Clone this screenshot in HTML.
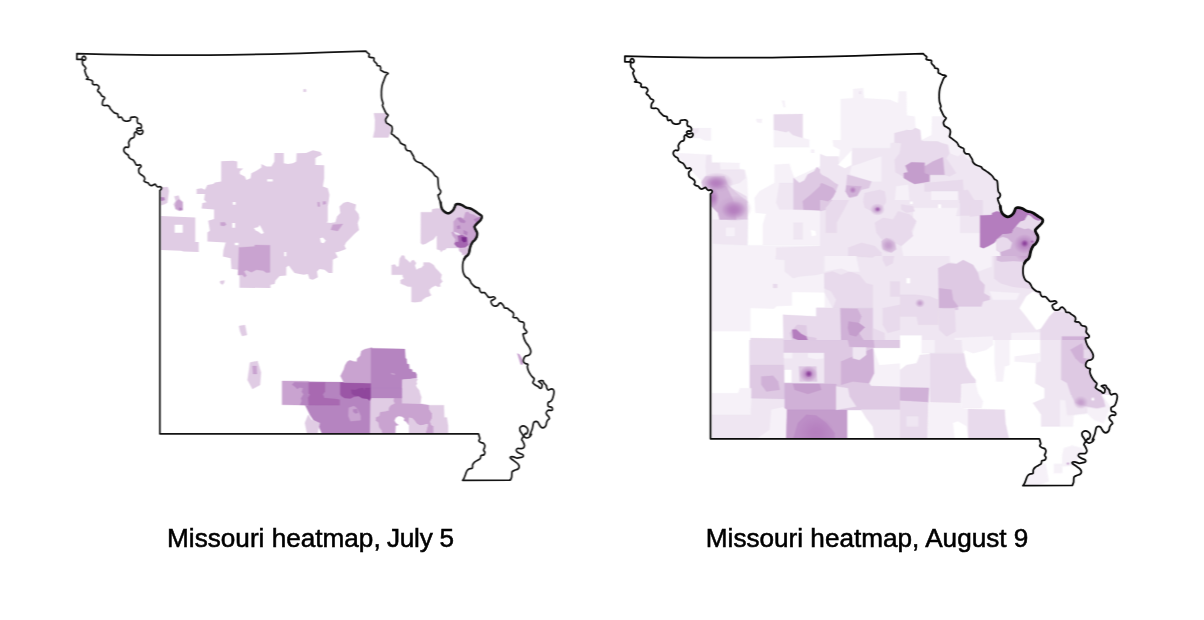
<!DOCTYPE html>
<html lang="en">
<head>
<meta charset="utf-8">
<title>Missouri heatmap</title>
<style>
html,body{margin:0;padding:0;background:#fff;}
body{width:1204px;height:620px;overflow:hidden;position:relative;font-family:"Liberation Sans",Arial,Helvetica,sans-serif;}
svg{position:absolute;left:0;top:0;display:block;}
.cap{position:absolute;top:523.2px;height:30px;line-height:30px;font-size:26.15px;-webkit-text-stroke:0.55px #000;transform:scaleY(1.01);transform-origin:0 23.7px;color:#000;white-space:nowrap;letter-spacing:0;}
#cap1{left:167.1px;}
#cap2{left:705.8px;}
</style>
</head>
<body>
<svg width="1204" height="620" viewBox="0 0 1204 620">
<defs>
<path id="mo" d="M76.90 53.70C76.90 53.70 103.48 54.35 120.00 54.60C136.52 54.85 157.67 55.15 176.00 55.20C194.33 55.25 209.33 55.22 230.00 54.90C250.67 54.58 277.34 53.94 300.00 53.30C322.66 52.66 365.94 51.04 365.94 51.04C365.94 51.04 367.06 52.44 367.62 52.97C368.18 53.50 369.09 53.60 369.30 54.23C369.51 54.86 368.53 56.18 368.88 56.74C369.23 57.30 370.55 57.37 371.39 57.58C372.23 57.79 373.49 57.51 373.91 58.00C374.33 58.49 373.70 59.82 373.91 60.52C374.12 61.22 374.68 61.64 375.17 62.20C375.66 62.76 376.50 63.32 376.85 63.88C377.20 64.44 376.78 65.20 377.27 65.55C377.76 65.90 379.22 65.62 379.78 65.97C380.34 66.32 380.48 66.95 380.62 67.65C380.76 68.35 380.34 69.61 380.62 70.17C380.90 70.73 381.67 70.66 382.30 71.01C382.93 71.36 383.70 72.02 384.40 72.27C385.10 72.52 385.86 72.31 386.49 72.52C387.12 72.73 388.17 73.14 388.17 73.52C388.17 73.90 386.98 74.22 386.49 74.78C386.00 75.34 385.65 75.97 385.23 76.88C384.81 77.79 384.40 79.11 383.98 80.23C383.56 81.35 383.07 82.47 382.72 83.59C382.37 84.71 382.09 85.69 381.88 86.95C381.67 88.21 381.53 89.74 381.46 91.14C381.39 92.54 381.47 94.70 381.46 95.34C381.45 95.98 381.33 94.36 381.39 95.00C381.45 95.64 381.53 97.79 381.81 99.19C382.09 100.59 382.96 102.34 383.07 103.39C383.18 104.44 382.34 104.58 382.48 105.49C382.62 106.40 383.32 107.58 383.91 108.84C384.50 110.10 385.31 111.99 386.01 113.04C386.71 114.09 387.96 114.43 388.10 115.13C388.24 115.83 387.27 116.46 386.85 117.23C386.43 118.00 385.66 118.84 385.59 119.75C385.52 120.66 385.87 121.91 386.43 122.68C386.99 123.45 388.10 123.80 388.94 124.36C389.78 124.92 390.90 125.34 391.46 126.04C392.02 126.74 392.23 127.65 392.30 128.56C392.37 129.47 392.02 130.65 391.88 131.49C391.74 132.33 391.18 132.96 391.46 133.59C391.74 134.22 392.79 134.64 393.56 135.27C394.33 135.90 395.23 136.67 396.07 137.37C396.91 138.07 397.89 138.62 398.59 139.46C399.29 140.30 399.94 141.81 400.27 142.40C400.60 142.99 400.15 142.69 400.55 143.00C400.95 143.31 401.88 143.84 402.65 144.26C403.42 144.68 404.68 144.82 405.17 145.52C405.66 146.22 405.24 147.61 405.59 148.45C405.94 149.29 406.50 150.13 407.27 150.55C408.04 150.97 409.43 150.48 410.20 150.97C410.97 151.46 411.32 152.58 411.88 153.49C412.44 154.40 413.21 155.58 413.56 156.42C413.91 157.26 413.56 157.75 413.98 158.52C414.40 159.29 415.30 160.41 416.07 161.04C416.84 161.67 417.61 161.88 418.59 162.30C419.57 162.72 421.11 162.99 421.95 163.55C422.79 164.11 422.92 165.02 423.62 165.65C424.32 166.28 425.30 166.77 426.14 167.33C426.98 167.89 427.82 168.38 428.66 169.01C429.50 169.64 430.40 170.40 431.17 171.10C431.94 171.80 432.64 172.43 433.27 173.20C433.90 173.97 434.25 175.02 434.95 175.72C435.65 176.42 436.95 176.56 437.47 177.40C437.99 178.24 437.91 179.49 438.05 180.75C438.19 182.01 438.17 183.69 438.31 184.95C438.45 186.21 438.54 187.39 438.89 188.30C439.24 189.21 440.12 189.70 440.40 190.40C440.68 191.10 440.78 191.80 440.57 192.50C440.36 193.20 439.55 194.17 439.14 194.59C438.73 195.01 438.13 194.37 438.10 195.00C438.07 195.63 438.52 197.10 438.94 198.36C439.36 199.62 440.20 201.01 440.62 202.55C441.04 204.09 440.97 206.18 441.46 207.58C441.95 208.98 442.65 210.03 443.56 210.94C444.47 211.85 445.93 212.69 446.91 213.04C447.89 213.39 448.45 213.46 449.43 213.04C450.41 212.62 451.95 211.43 452.79 210.52C453.63 209.61 453.97 208.56 454.46 207.58C454.95 206.60 455.16 205.24 455.72 204.65C456.28 204.06 456.77 203.99 457.82 204.06C458.87 204.13 460.61 204.48 462.01 205.07C463.41 205.66 464.95 207.05 466.21 207.58C467.47 208.11 468.44 207.91 469.56 208.26C470.68 208.61 471.66 208.95 472.92 209.68C474.18 210.41 475.71 211.64 477.11 212.62C478.51 213.60 480.54 214.71 481.31 215.55C482.08 216.39 481.87 216.88 481.73 217.65C481.59 218.42 481.24 219.19 480.47 220.17C479.70 221.15 478.09 222.47 477.11 223.52C476.13 224.57 474.88 225.48 474.60 226.46C474.32 227.44 475.02 228.35 475.44 229.40C475.86 230.45 476.90 231.49 477.11 232.75C477.32 234.01 477.11 235.69 476.69 236.95C476.27 238.21 475.24 239.51 474.60 240.30C473.96 241.09 473.42 240.96 472.85 241.68C472.28 242.40 471.66 243.49 471.17 244.61C470.68 245.73 470.27 247.06 469.92 248.39C469.57 249.72 469.43 251.46 469.08 252.58C468.73 253.70 468.38 254.40 467.82 255.10C467.26 255.80 466.35 256.08 465.72 256.78C465.09 257.48 464.50 258.32 464.04 259.30C463.58 260.28 463.19 261.39 462.95 262.65C462.71 263.91 462.62 265.45 462.62 266.85C462.62 268.25 462.71 269.78 462.95 271.04C463.19 272.30 463.58 273.42 464.04 274.40C464.50 275.38 464.95 276.21 465.72 276.91C466.49 277.61 467.89 277.89 468.66 278.59C469.43 279.29 469.85 280.27 470.34 281.11C470.83 281.95 471.03 282.85 471.59 283.62C472.15 284.39 472.92 285.09 473.69 285.72C474.46 286.35 475.37 287.05 476.21 287.40C477.05 287.75 478.20 287.65 478.72 287.82C479.25 287.99 479.18 287.97 479.36 288.42C479.54 288.87 479.43 289.82 479.78 290.52C480.13 291.22 480.69 292.26 481.46 292.61C482.23 292.96 483.56 292.26 484.40 292.61C485.24 292.96 485.79 293.94 486.49 294.71C487.19 295.48 487.82 296.81 488.59 297.23C489.36 297.65 490.27 297.30 491.11 297.23C491.95 297.16 492.92 296.60 493.62 296.81C494.32 297.02 495.37 298.00 495.30 298.49C495.23 298.98 493.90 299.32 493.20 299.74C492.50 300.16 491.39 300.37 491.11 301.00C490.83 301.63 491.18 302.75 491.53 303.52C491.88 304.29 492.50 305.20 493.20 305.62C493.90 306.04 494.95 306.11 495.72 306.04C496.49 305.97 497.26 305.62 497.82 305.20C498.38 304.78 498.59 303.90 499.08 303.52C499.57 303.14 500.20 302.79 500.76 302.93C501.32 303.07 501.94 303.84 502.43 304.36C502.92 304.88 503.37 305.44 503.69 306.04C504.01 306.64 503.94 307.62 504.36 307.97C504.78 308.32 505.62 308.03 506.21 308.13C506.80 308.23 507.33 308.20 507.89 308.55C508.45 308.90 508.93 309.74 509.56 310.23C510.19 310.72 511.03 311.00 511.66 311.49C512.29 311.98 513.02 312.54 513.34 313.17C513.66 313.80 513.63 314.57 513.59 315.27C513.55 315.97 512.85 316.94 513.09 317.36C513.33 317.78 514.42 317.71 515.02 317.78C515.62 317.85 516.13 317.50 516.69 317.78C517.25 318.06 517.95 318.90 518.37 319.46C518.79 320.02 518.72 320.76 519.21 321.14C519.70 321.52 520.61 321.51 521.31 321.72C522.01 321.93 522.92 321.94 523.41 322.40C523.90 322.86 524.17 323.65 524.24 324.49C524.31 325.33 523.69 326.59 523.83 327.43C523.97 328.27 524.59 328.83 525.08 329.53C525.57 330.23 526.62 330.99 526.76 331.62C526.90 332.25 526.48 332.95 525.92 333.30C525.36 333.65 523.86 333.44 523.41 333.72C522.96 334.00 523.10 334.23 523.20 335.00C523.31 335.77 523.62 337.17 524.04 338.36C524.46 339.55 525.02 340.94 525.72 342.13C526.42 343.32 527.54 344.44 528.24 345.49C528.94 346.54 529.50 347.44 529.92 348.42C530.34 349.40 530.72 350.45 530.76 351.36C530.80 352.27 530.52 353.22 530.17 353.88C529.82 354.54 529.33 354.98 528.66 355.30C527.99 355.62 526.84 355.49 526.14 355.81C525.44 356.13 524.91 356.57 524.46 357.23C524.01 357.89 523.60 358.98 523.46 359.75C523.32 360.52 523.31 361.22 523.62 361.85C523.93 362.48 524.60 363.10 525.30 363.52C526.00 363.94 527.47 363.80 527.82 364.36C528.17 364.92 527.33 365.90 527.40 366.88C527.47 367.86 527.82 369.11 528.24 370.23C528.66 371.35 529.29 372.54 529.92 373.59C530.55 374.64 531.31 375.69 532.01 376.53C532.71 377.37 533.83 377.92 534.11 378.62C534.39 379.32 533.90 380.02 533.69 380.72C533.48 381.42 532.71 382.19 532.85 382.82C532.99 383.45 534.05 384.09 534.53 384.50C535.01 384.91 535.10 384.92 535.72 385.26C536.34 385.60 537.54 386.03 538.24 386.52C538.94 387.01 539.36 387.98 539.92 388.19C540.48 388.40 541.24 388.20 541.59 387.78C541.94 387.36 541.93 386.23 542.01 385.68C542.09 385.13 542.42 385.05 542.08 384.50C541.74 383.95 540.57 382.93 539.98 382.40C539.39 381.87 538.49 381.59 538.56 381.31C538.63 381.03 539.67 380.82 540.40 380.72C541.13 380.62 542.36 380.37 542.92 380.72C543.48 381.07 543.34 382.19 543.76 382.82C544.18 383.45 544.95 383.94 545.44 384.50C545.93 385.06 546.56 385.97 546.69 386.17C546.82 386.37 546.15 385.27 546.21 385.68C546.27 386.09 546.70 387.88 547.05 388.61C547.40 389.34 547.75 389.94 548.31 390.04C548.87 390.14 549.70 389.37 550.40 389.20C551.10 389.03 551.91 388.71 552.50 389.03C553.09 389.35 553.72 390.29 553.93 391.13C554.14 391.97 553.93 393.02 553.76 394.07C553.59 395.12 553.27 396.37 552.92 397.42C552.57 398.47 552.15 399.66 551.66 400.36C551.17 401.06 550.54 401.27 549.98 401.62C549.42 401.97 548.66 401.97 548.31 402.46C547.96 402.95 547.82 403.85 547.89 404.55C547.96 405.25 548.16 406.23 548.72 406.65C549.28 407.07 550.61 406.72 551.24 407.07C551.87 407.42 552.43 408.19 552.50 408.75C552.57 409.31 552.29 410.19 551.66 410.43C551.03 410.67 549.49 410.03 548.72 410.17C547.95 410.31 547.47 410.81 547.05 411.27C546.63 411.73 546.21 412.31 546.21 412.94C546.21 413.57 546.63 414.41 547.05 415.04C547.47 415.67 548.33 416.13 548.72 416.72C549.11 417.31 549.54 418.00 549.40 418.56C549.26 419.12 548.35 419.47 547.89 420.07C547.43 420.67 546.91 421.40 546.63 422.17C546.35 422.94 546.49 423.92 546.21 424.69C545.93 425.46 545.51 426.27 544.95 426.79C544.39 427.31 543.55 427.79 542.85 427.79C542.15 427.79 541.39 427.38 540.76 426.79C540.13 426.20 539.57 425.04 539.08 424.27C538.59 423.50 538.31 422.66 537.82 422.17C537.33 421.68 536.77 421.33 536.14 421.33C535.51 421.33 534.53 421.68 534.04 422.17C533.55 422.66 533.48 423.22 533.20 424.27C532.92 425.32 532.72 427.20 532.37 428.46C532.02 429.72 531.53 430.70 531.11 431.82C530.69 432.94 529.81 434.78 529.85 435.17C529.89 435.56 531.48 433.86 531.38 434.19C531.28 434.52 530.12 436.50 529.28 437.13C528.44 437.76 527.25 438.11 526.34 437.97C525.43 437.83 524.60 437.06 523.83 436.29C523.06 435.52 522.36 434.27 521.73 433.36C521.10 432.45 520.30 431.24 520.05 430.84C519.79 430.44 520.25 431.38 520.20 430.98C520.16 430.58 519.64 429.19 519.78 428.46C519.92 427.73 520.48 427.04 521.04 426.62C521.60 426.20 522.37 425.92 523.14 425.95C523.91 425.98 524.91 426.30 525.65 426.79C526.39 427.28 527.23 428.11 527.58 428.88C527.93 429.65 527.93 430.56 527.75 431.40C527.57 432.24 526.87 433.59 526.49 433.92C526.12 434.25 525.94 433.04 525.50 433.36C525.06 433.69 524.46 434.89 523.83 435.87C523.20 436.85 521.94 438.39 521.73 439.23C521.52 440.07 522.22 440.21 522.57 440.91C522.92 441.61 523.51 442.58 523.83 443.42C524.15 444.26 524.64 445.13 524.50 445.94C524.36 446.75 523.66 447.84 522.99 448.29C522.32 448.74 521.38 448.59 520.47 448.62C519.56 448.65 518.23 448.21 517.53 448.46C516.83 448.71 516.35 449.57 516.28 450.13C516.21 450.69 516.48 451.25 517.11 451.81C517.74 452.37 519.10 453.00 520.05 453.49C521.00 453.98 522.33 454.22 522.82 454.75C523.31 455.28 523.38 456.22 522.99 456.68C522.60 457.14 521.45 457.28 520.47 457.52C519.49 457.76 518.23 458.21 517.11 458.10C515.99 457.99 514.81 457.06 513.76 456.85C512.71 456.64 511.38 456.64 510.82 456.85C510.26 457.06 510.12 457.61 510.40 458.10C510.68 458.59 511.66 459.15 512.50 459.78C513.34 460.41 514.46 461.11 515.44 461.88C516.42 462.65 517.74 463.56 518.37 464.40C519.00 465.24 519.28 466.14 519.21 466.91C519.14 467.68 518.72 468.45 517.95 469.01C517.18 469.57 515.58 469.78 514.60 470.27C513.62 470.76 512.57 470.83 512.08 471.95C511.59 473.07 511.94 475.61 511.66 476.98C511.38 478.35 510.40 480.17 510.40 480.17L462.58 480.34C462.58 480.34 463.35 479.64 463.84 478.66C464.33 477.68 465.03 475.72 465.52 474.46C466.01 473.20 466.22 472.02 466.78 471.11C467.34 470.20 467.97 469.50 468.88 469.01C469.79 468.52 471.60 468.87 472.23 468.17C472.86 467.47 472.30 465.80 472.65 464.82C473.00 463.84 473.49 463.07 474.33 462.30C475.17 461.53 476.70 460.83 477.68 460.20C478.66 459.57 479.64 459.29 480.20 458.52C480.76 457.75 480.41 456.22 481.04 455.59C481.67 454.96 483.35 455.31 483.98 454.75C484.61 454.19 484.89 453.00 484.82 452.23C484.75 451.46 483.63 450.83 483.56 450.13C483.49 449.43 484.19 448.81 484.40 448.04C484.61 447.27 484.96 446.29 484.82 445.52C484.68 444.75 484.19 443.91 483.56 443.42C482.93 442.93 481.81 443.00 481.04 442.58C480.27 442.16 479.15 441.54 478.94 440.91C478.73 440.28 479.71 439.51 479.78 438.81C479.85 438.11 479.57 437.55 479.36 436.71C479.15 435.87 478.52 433.78 478.52 433.78L159.85 433.85L159.85 190.60C159.85 190.60 160.64 189.96 160.92 189.50C161.20 189.04 161.65 188.31 161.51 187.82C161.37 187.33 160.70 186.70 160.08 186.56C159.47 186.42 158.45 187.12 157.82 186.98C157.19 186.84 156.77 186.21 156.31 185.72C155.85 185.23 155.54 184.18 155.05 184.04C154.56 183.90 154.00 184.60 153.37 184.88C152.74 185.16 151.91 185.72 151.28 185.72C150.65 185.72 150.16 185.37 149.60 184.88C149.04 184.39 148.48 183.21 147.92 182.79C147.36 182.37 146.87 182.65 146.24 182.37C145.61 182.09 144.39 181.67 144.14 181.11C143.89 180.55 144.73 179.71 144.73 179.01C144.73 178.31 144.59 177.54 144.14 176.91C143.69 176.28 142.82 175.79 142.05 175.23C141.28 174.67 140.09 174.26 139.53 173.56C138.97 172.86 138.76 171.88 138.69 171.04C138.62 170.20 138.72 169.25 139.11 168.52C139.50 167.79 140.90 167.31 141.04 166.68C141.18 166.05 140.41 165.00 139.95 164.75C139.49 164.50 138.90 165.17 138.27 165.17C137.64 165.17 136.73 165.20 136.17 164.75C135.61 164.30 135.41 163.25 134.92 162.48C134.43 161.71 133.87 160.69 133.24 160.13C132.61 159.57 131.84 159.55 131.14 159.13C130.44 158.71 129.53 158.29 129.04 157.62C128.55 156.95 128.76 155.80 128.20 155.10C127.64 154.40 126.39 154.05 125.69 153.42C124.99 152.79 124.29 152.10 124.01 151.33C123.73 150.56 123.73 149.51 124.01 148.81C124.29 148.11 124.99 147.37 125.69 147.13C126.39 146.89 127.64 147.66 128.20 147.38C128.76 147.10 128.97 146.26 129.04 145.45C129.11 144.64 128.48 143.43 128.62 142.52C128.76 141.61 129.74 140.31 129.88 140.00C130.02 139.69 129.25 140.90 129.46 140.66C129.67 140.42 130.44 139.05 131.14 138.56C131.84 138.07 133.10 138.21 133.66 137.72C134.22 137.23 134.36 136.39 134.50 135.62C134.64 134.85 134.22 133.74 134.50 133.11C134.78 132.48 135.61 131.78 136.17 131.85C136.73 131.92 137.22 133.11 137.85 133.53C138.48 133.95 139.25 134.37 139.95 134.37C140.65 134.37 141.56 134.02 142.05 133.53C142.54 133.04 142.89 131.99 142.89 131.43C142.89 130.87 142.61 130.28 142.05 130.17C141.49 130.06 140.30 130.72 139.53 130.76C138.76 130.80 137.88 130.73 137.43 130.42C136.98 130.11 136.64 129.33 136.85 128.91C137.06 128.49 137.99 128.05 138.69 127.91C139.39 127.77 140.59 128.46 141.04 128.07C141.49 127.68 141.49 126.26 141.38 125.56C141.27 124.86 140.96 124.30 140.37 123.88C139.78 123.46 138.38 123.53 137.85 123.04C137.32 122.55 137.25 121.71 137.18 120.94C137.11 120.17 137.74 119.09 137.43 118.43C137.12 117.77 136.11 117.21 135.34 117.00C134.57 116.79 133.59 117.07 132.82 117.17C132.05 117.27 131.14 117.10 130.72 117.59C130.30 118.08 130.65 119.54 130.30 120.10C129.95 120.66 129.39 120.76 128.62 120.94C127.85 121.12 126.60 121.33 125.69 121.19C124.78 121.05 123.73 120.56 123.17 120.10C122.61 119.64 122.68 118.95 122.33 118.43C121.98 117.91 121.63 117.14 121.07 117.00C120.51 116.86 119.47 117.70 118.98 117.59C118.49 117.48 118.35 116.93 118.14 116.33C117.93 115.73 118.07 114.47 117.72 113.98C117.37 113.49 116.67 113.63 116.04 113.39C115.41 113.15 114.64 113.04 113.94 112.55C113.24 112.06 112.45 111.09 111.85 110.46C111.25 109.83 110.76 109.41 110.34 108.78C109.92 108.15 109.85 107.24 109.33 106.68C108.81 106.12 108.00 105.60 107.23 105.42C106.46 105.24 105.48 105.66 104.71 105.59C103.94 105.52 103.00 105.45 102.62 105.00C102.24 104.55 102.38 103.68 102.45 102.91C102.52 102.14 102.71 101.09 103.04 100.39C103.38 99.69 104.25 99.27 104.46 98.71C104.67 98.15 104.75 97.52 104.30 97.03C103.85 96.54 102.41 96.34 101.78 95.78C101.15 95.22 101.01 94.31 100.52 93.68C100.03 93.05 99.17 92.27 98.84 92.00C98.51 91.73 98.71 92.31 98.52 92.04C98.33 91.77 97.61 91.00 97.68 90.37C97.75 89.74 98.77 88.97 98.94 88.27C99.11 87.57 99.04 86.76 98.69 86.17C98.34 85.58 97.65 84.98 96.85 84.74C96.05 84.50 94.64 84.92 93.91 84.74C93.18 84.56 92.69 84.18 92.48 83.65C92.27 83.12 92.83 82.12 92.65 81.56C92.47 81.00 92.02 80.65 91.39 80.30C90.76 79.95 89.72 79.64 88.88 79.46C88.04 79.28 86.50 79.49 86.36 79.21C86.22 78.93 87.97 78.30 88.04 77.78C88.11 77.26 87.20 76.87 86.78 76.10C86.36 75.33 85.87 74.15 85.52 73.17C85.17 72.19 84.64 71.00 84.68 70.23C84.72 69.46 85.70 69.11 85.77 68.55C85.84 67.99 85.56 67.51 85.10 66.88C84.64 66.25 83.45 65.48 83.00 64.78C82.55 64.08 82.49 63.52 82.42 62.68C82.35 61.84 82.69 60.30 82.58 59.74C82.47 59.18 81.74 59.33 81.74 59.33L76.88 59.33L76.90 53.70Z"/>
<filter id="soft" filterUnits="userSpaceOnUse" x="0" y="0" width="1204" height="620" color-interpolation-filters="sRGB"><feConvolveMatrix order="3 1" kernelMatrix="1 2 1" divisor="4" edgeMode="duplicate" preserveAlpha="false"/></filter>
<filter id="soft2" filterUnits="userSpaceOnUse" x="0" y="0" width="1204" height="620" color-interpolation-filters="sRGB"><feConvolveMatrix order="3 1" kernelMatrix="1 2 1" divisor="4" edgeMode="duplicate" preserveAlpha="false"/></filter>
<filter id="lineblur" filterUnits="userSpaceOnUse" x="0" y="0" width="1204" height="620" color-interpolation-filters="sRGB"><feConvolveMatrix order="3 1" kernelMatrix="1 3 1" divisor="5" edgeMode="duplicate" preserveAlpha="false"/></filter>
<filter id="lineblur2" filterUnits="userSpaceOnUse" x="0" y="0" width="1204" height="620" color-interpolation-filters="sRGB"><feConvolveMatrix order="3 1" kernelMatrix="1 6 1" divisor="8" edgeMode="duplicate" preserveAlpha="false"/></filter>
<clipPath id="clipL"><use href="#mo"/></clipPath>
<clipPath id="clipR"><use href="#mo" transform="translate(545.55 2.15) scale(1.0320 1.0066)"/></clipPath>
</defs>
<g id="heat-july">
<g clip-path="url(#clipL)"><g filter="url(#soft)">
<path d="M196.6 189L201.6 188.2L204.9 189.8L207.4 184.9L213.2 184L214.9 182.4L221.2 181.5L221.2 161.3L233.2 160.8L237.3 161.6L237.3 168.2L243.1 168.6L239.8 171.6L239.8 174.1L244.8 176.5L246.4 179.9L250.6 178.2L251.4 173.2L256.4 170.7L261.4 167.4L261.4 164.1L266.4 166.6L271.4 166.6L274.4 161.6L274.4 153L283.8 153L283.8 163.3L288 164.1L293 163.3L296.3 161.6L296.6 153.3L306.2 153L312.9 150.3L320.4 152L322 155L317.9 156.6L315.4 158.3L315.4 164.9L324.2 165.2L324.2 178.2L322.9 186.5L327.8 188.2L329.5 194.8L328.7 201.5L327.8 206.4L327.8 221.4L326.2 222.2L330.3 223.1L335.3 222.2L337 216.4L340.3 213.1L339.5 206.4L343.6 202.8L347.8 201.8L356.1 204.5L355.2 209.8L358.6 213.9L359.4 218.1L357.7 223.3L359.1 229.9L354.4 234.1L350.3 238.2L346.1 242.4L344.5 245.7L346.1 249L339.5 251.5L335.3 252.4L337.8 257.3L332.8 259.8L332.5 273.1L328.7 273.1L324.5 269.8L319.5 269L317 271.5L317.9 277.3L312.9 279.8L309.6 278.9L307.9 274L303.8 274.8L299.6 274L294.6 273.1L291.3 269L288.8 265.6L286.3 267.3L286.3 275.6L279.7 276.1L275.5 280.6L274.7 283.9L270.5 284.8L270.5 288.1L239.5 287.7L239.5 275.6L237.8 275.1L238.1 269.8L231.5 269L230.7 258.2L222.9 256.5L223.5 249.9L225.7 242.4L207.4 241.6L207.4 232.4L209.9 230.8L208.2 220.8L214.1 219.1L214.1 210L214.1 209.4L201.6 208.4L202.4 203.1L206.6 202.3L204.1 199.8L204.9 194L196.6 194ZM232.8 202.1L235.6 202.1L235.6 204.8L232.8 204.8ZM267.2 179.2L272.7 179.2L272.7 181.5L267.2 181.5ZM232.3 223.1L235.1 223.1L235.1 227.7L232.3 227.7ZM253.9 228L258.1 227.2L259.7 225L261.4 228L263.9 233L261.4 233.9L258.1 231.4L255.6 230.5ZM319.9 238.2L322.9 237.4L325.8 240.7L323.7 243.2L320.9 242.4ZM234.8 242.7L238.5 242.7L238.5 245.2L234.8 245.2ZM284.3 251.9L286.3 251.9L286.3 256.2L284.3 256.2Z" fill="#e0cce4" fill-rule="evenodd"/>
<path d="M239 247.4L254.8 246.5L254.8 244.9L270 245.2L270 272.3L266.4 272.8L263.1 270.6L256.4 269.8L251.4 272.3L246.4 270.1L244 271.5L246.4 275.6L244.8 277.3L242.3 274.8L238.1 275.1Z" fill="#c9a3d0" stroke="#c9a3d0" stroke-width="0.3"/>
<path d="M220.4 222.6L224.9 222.2L226.2 224.7L224 226L220.7 225.5Z" fill="#c9a3d0" stroke="#c9a3d0" stroke-width="0.3"/>
<path d="M332.8 224.7L342.8 223.9L337.8 231L330.8 229.7Z" fill="#c9a3d0" stroke="#c9a3d0" stroke-width="0.3"/>
<path d="M317.5 202.3L319.5 202.3L319.9 206.4L317.9 206.4Z" fill="#c9a3d0" stroke="#c9a3d0" stroke-width="0.3"/>
<path d="M322.9 201.5L325.8 201.5L325.8 204L322.9 204.5Z" fill="#c9a3d0" stroke="#c9a3d0" stroke-width="0.3"/>
<path d="M220.2 281.1L224.5 280.6L224 283.1L222.4 284.8L220.2 283.1Z" fill="#e0cce4" stroke="#e0cce4" stroke-width="0.3"/>
<path d="M160.9 215.9L195.3 217.4L195.3 241.9L198.7 241.9L198.7 252L183.6 251.6L181 250.7L160.9 249.9ZM174.7 224.7L182.7 224.7L182.7 232.7L174.7 232.7Z" fill="#e0cce4" fill-rule="evenodd"/>
<path d="M161 187.6L167.7 187.1L168.9 190.9L168.1 196.8L167.3 202.7L164.3 204.3L161 205.2Z" fill="#e0cce4" stroke="#e0cce4" stroke-width="0.3"/>
<path d="M160.6 197.2L164.3 197.6L164.7 200.1L161 201Z" fill="#b584c0" stroke="#b584c0" stroke-width="0.3"/>
<path d="M174.4 196.4L178.6 195.5L179.8 199.3L182.8 201.8L183 210.2L179.4 211L175.7 209.4L173.6 204.3L175.7 201Z" fill="#e0cce4" stroke="#e0cce4" stroke-width="0.3"/>
<path d="M176.1 201.8L178.6 199.3L182.4 202.2L182.4 209.8L179.4 210.4L175.7 208.5L175.2 205.2Z" fill="#c9a3d0" stroke="#c9a3d0" stroke-width="0.3"/>
<path d="M179 207.7L181.9 208.1L181.8 210L179.3 209.8Z" fill="#b584c0" stroke="#b584c0" stroke-width="0.3"/>
<path d="M373.9 113.3L386.4 113.3L390.5 120L390.5 131.6L388.4 137.4L373.1 137.4L374.8 129.9L375.1 120Z" fill="#e0cce4" stroke="#e0cce4" stroke-width="0.3"/>
<path d="M303.5 89.3L306.1 89.3L306.1 91.8L303.5 91.8Z" fill="#e0cce4" stroke="#e0cce4" stroke-width="0.3"/>
<path d="M420.9 212.2L431.8 212.2L432.2 209.3L436.8 208.4L441.5 208.8L445.2 203.4L485.5 203.4L475.5 256.9L464.6 256.5L463.8 253.9L462.5 255.2L462.1 252.7L460.4 251.8L459.1 251L458.7 248.1L446.6 248.1L445.3 249.7L442.8 250.2L441.1 252.3L440.3 250.2L436.9 249.3L436.9 235.5L436.1 235.9L433.6 239.3L429.4 241.4L425.2 243.9L422.2 244.5L420.8 243Z" fill="#e0cce4" stroke="#e0cce4" stroke-width="0.3"/>
<path d="M453.6 221.8L457 217.7L460.3 217.2L463.7 218.5L465.4 212.6L467.9 211.8L470.4 213.9L473.8 214.7L477.1 216.8L485.5 217.7L477.2 245.1L468 245.1L465.4 247.2L460.4 247.7L457 246.8L454.5 243.9L455.4 239.3L452.9 235.9L451.6 232.6L453.7 231.3L453.7 225Z" fill="#c9a3d0" stroke="#c9a3d0" stroke-width="0.3"/>
<path d="M457.4 218.5L460.3 217.7L465.4 221L464.5 223.1L460.3 222.3Z" fill="#b584c0" stroke="#b584c0" stroke-width="0.3"/>
<path d="M473.8 219.3L479.6 217.2L480.5 220.2L476.3 222.7Z" fill="#b584c0" stroke="#b584c0" stroke-width="0.3"/>
<path d="M457 226L459.9 225.6L460.3 228.6L457.4 229Z" fill="#b584c0" stroke="#b584c0" stroke-width="0.3"/>
<path d="M463.7 230.2L467.5 231.9L467 235.3L463.7 233.6Z" fill="#b584c0" stroke="#b584c0" stroke-width="0.3"/>
<path d="M457.9 235.9L462.1 235.1L467.1 237.6L468 245.1L465.4 247.2L460.4 247.7L457 246.8L454.5 243.9L455.4 242.2L458.7 241.8Z" fill="#a465b0" stroke="#a465b0" stroke-width="0.3"/>
<path d="M461.7 237.2L466.3 237.6L466.3 241.4L463.8 242.2L461.9 240.5Z" fill="#7b2d8e" stroke="#7b2d8e" stroke-width="0.3"/>
<path d="M453.7 231.7L458.7 233.4L460 235.1L455.4 234.2Z" fill="#ecdff0" stroke="#ecdff0" stroke-width="0.3"/>
<path d="M459.1 248.5L467.1 248.1L467.1 253.5L463.8 253.9L462.5 255.2L462.1 252.7L460.4 251.8Z" fill="#d8bddd" stroke="#d8bddd" stroke-width="0.3"/>
<path d="M391.7 265L395.1 264.6L396.8 267.1L398.9 266.3L399.7 258.7L401.8 255.4L404.3 255.8L405.2 258.7L407.7 260.4L410.2 262.9L411.5 260.8L413.6 260L416.1 262.9L414.8 265.8L416.5 270L418.6 268.4L421.1 267.9L423.6 265.4L423.6 262.5L429.5 262.5L433.7 265L435.4 267.9L438.7 271.3L441.7 274.7L440.8 278.8L442.5 281.4L440 283.9L440.4 286.4L437.9 286.8L435.4 285.6L432 287.2L429.1 289.8L429.5 292.3L431.2 295.2L428.7 296.5L426.1 297.3L422.8 299.4L421.5 301.5L415.2 302.3L411.5 301.9L411.5 286.8L407.7 286.4L404.3 285.1L400.6 283.5L400.6 280.1L403.9 278.8L402.7 276.3L402.7 274.7L391.7 274.7Z" fill="#e0cce4" stroke="#e0cce4" stroke-width="0.3"/>
<path d="M308.1 381.7L371.5 382.6L371.5 406.1L308.1 405.7Z" fill="#b584c0" stroke="#b584c0" stroke-width="0.3"/>
<path d="M282.1 380.9L308.6 381.3L308.6 405.2L282.1 404.8Z" fill="#c9a3d0" stroke="#c9a3d0" stroke-width="0.3"/>
<path d="M292.2 384.7L294.3 382.2L308.6 382.4L308.6 395.2L310.2 394.7L308.6 397.7L308.6 405.2L300.2 404.8L301.8 401L301 398.5L303.5 394.3L301.8 391.8L303.1 388L299.3 387.6L297.2 388.9L295.1 386.8Z" fill="#b584c0" stroke="#b584c0" stroke-width="0.3"/>
<path d="M305.2 405.2L339.6 405.2L339.6 399.4L342.1 396L344.6 398.1L350.5 398.5L353.9 396.8L358.9 396L362.2 398.1L367.3 398.5L369.8 400.6L371.5 400.6L371.5 433.8L322 433.8L316.9 422L313.6 420.3L310.2 415.3L307.7 410.3Z" fill="#b584c0" stroke="#b584c0" stroke-width="0.3"/>
<path d="M308.6 382.4L325.3 382.6L325.3 391.8L323.2 394.3L324.5 397.7L339.6 399.4L339.6 405.2L308.6 405.2L308.1 397.7L310.2 394.7L308.6 393.5Z" fill="#a869b1" stroke="#a869b1" stroke-width="0.3"/>
<path d="M325.3 382.6L340 382.6L340.4 394.3L342.1 396L339.6 399.4L335.4 397.3L332.9 398.1L324.5 397.7L323.2 394.3L325.3 391.8Z" fill="#b584c0" stroke="#b584c0" stroke-width="0.3"/>
<path d="M340.3 382.6L371.3 383L371.3 397.7L369.8 400.6L367.3 398.5L362.2 398.1L358.9 396L353.9 396.8L350.5 398.5L344.6 398.1L341.3 396L340.3 394.3Z" fill="#9b56a6" stroke="#9b56a6" stroke-width="0.3"/>
<path d="M351.3 389.7L355.5 390.1L358.9 388.5L363.1 388L364.8 390.6L371.3 391L371.3 397.7L369.8 400.6L367.3 398.5L362.2 398.1L358.9 396L353.9 395.2L351.8 393.5Z" fill="#8f479c" stroke="#8f479c" stroke-width="0.3"/>
<path d="M348.8 407.8L353.9 406.1L356.4 407.8L358.9 411.9L360.6 416.1L360.6 420.3L350.5 421.2L348.4 416.1Z" fill="#c9a3d0" stroke="#c9a3d0" stroke-width="0.3"/>
<path d="M353 409.4L356.8 409L358.1 412.8L355.5 413.6L353.4 411.9Z" fill="#b584c0" stroke="#b584c0" stroke-width="0.3"/>
<path d="M308.2 414.8L311.5 419.7L319.8 423.1L317.3 434.7L307.4 434.7L304.9 423.1Z" fill="#e0cce4" stroke="#e0cce4" stroke-width="0.3"/>
<path d="M340.5 376.1L342.1 372.7L343.8 369.4L345.1 365.2L347.2 361.8L349.7 360.3L353.9 361.4L356.8 361.8L357.2 358.5L360.2 355.9L361.4 350.9L364.8 349.2L370 348L371.9 347.6L371.9 383.2L343.8 382.4Z" fill="#c9a3d0" stroke="#c9a3d0" stroke-width="0.3"/>
<path d="M371 348.2L404.9 349.1L405.4 358L406.6 358.9L407 363.9L409.1 364.3L409.4 368.9L412.1 369.4L412.5 371.9L415.4 372.3L416.7 374.4L416.7 378.2L410.4 379L402.4 379.8L402 398.7L371 398.7Z" fill="#b584c0" stroke="#b584c0" stroke-width="0.3"/>
<path d="M391.1 373.1L394.9 373.8L394.9 374.8L391.5 374.2Z" fill="#c9a3d0" stroke="#c9a3d0" stroke-width="0.3"/>
<path d="M402.4 379.8L410.4 379L416.7 378.2L417.5 379.4L416.3 381.9L417.1 383.6L415.9 385.7L417.1 387.8L419.2 390.3L420.1 393.7L421.3 397L420.5 403.8L402 403.8Z" fill="#e0cce4" stroke="#e0cce4" stroke-width="0.3"/>
<path d="M370.5 398.1L394.4 398.1L393.5 400.6L394.8 403.5L391 405.2L389.3 407.3L388.5 410.7L380.1 412.3L379.3 416.1L375.9 417.4L375.9 420.7L378.4 422.4L379.3 427.4L381.8 430.8L382.6 435L370 435Z" fill="#e0cce4" stroke="#e0cce4" stroke-width="0.3"/>
<path d="M394.4 398.1L401.9 398.1L401.9 403.5L422 403.9L429.2 405.2L429.6 409.8L432.1 413.2L432.1 418.2L430.4 421.6L431.3 424.9L433.8 425.8L433.8 435L425 435L427.1 427.4L427.9 424.1L423.7 424.9L420.4 425.8L417 424.1L414.5 420.7L412 418.2L409 417.8L408.6 424.9L406.1 421.6L404 420.7L404.4 418.2L401.9 416.5L398.6 416.1L395.6 417.8L394.4 420.7L396 423.2L398.6 424.9L395.6 425.8L395.2 435L382.6 435L381.8 430.8L379.3 427.4L378.4 422.4L375.9 420.7L375.9 417.4L379.3 416.1L380.1 412.3L388.5 410.7L389.3 407.3L391 405.2L394.8 403.5L393.5 400.6Z" fill="#c9a3d0" stroke="#c9a3d0" stroke-width="0.3"/>
<path d="M409 417.8L412 418.2L414.5 420.7L417 424.1L420.4 425.8L423.7 424.9L427.9 424.1L427.1 427.4L425 435L409 435Z" fill="#e0cce4" stroke="#e0cce4" stroke-width="0.3"/>
<path d="M429.2 405.2L443.9 405.2L444.3 417.4L446.8 417.4L448.1 425.8L448.1 435L433.8 435L433.8 425.8L431.3 424.9L430.4 421.6L432.1 418.2L432.1 413.2L429.6 409.8Z" fill="#e0cce4" stroke="#e0cce4" stroke-width="0.3"/>
<path d="M365 388L370.9 388L370.9 398.1L369.6 400.6L368.4 398.1L365 398.1Z" fill="#8f479c" stroke="#8f479c" stroke-width="0.3"/>
<path d="M370.9 388L401.9 388L401.9 398.1L370.9 397.9Z" fill="#b584c0" stroke="#b584c0" stroke-width="0.3"/>
<path d="M239 326L245 325L247 335L242 336L240 331Z" fill="#e0cce4" stroke="#e0cce4" stroke-width="0.3"/>
<path d="M250 362.5L257.5 361L261 372.5L260 385L252.5 389L247.5 380L249 370Z" fill="#e0cce4" stroke="#e0cce4" stroke-width="0.3"/>
<path d="M252.5 366L256.5 366L257 374L253 374Z" fill="#c9a3d0" stroke="#c9a3d0" stroke-width="0.3"/>
<path d="M517.3 353.5L519.4 354.3L521.9 358.5L523.5 361.8L522.8 364.4L520.7 364.4L519.4 360.2Z" fill="#c9a3d0" stroke="#c9a3d0" stroke-width="0.3"/>
</g></g>
</g>
<g id="heat-august">
<defs><clipPath id="cA"><rect x="620" y="50" width="200" height="103"/></clipPath><clipPath id="cB"><rect x="820" y="50" width="200" height="80"/></clipPath><clipPath id="cC"><rect x="820" y="130" width="180" height="70"/></clipPath><clipPath id="cD"><rect x="620" y="153" width="200" height="103"/></clipPath><clipPath id="cE"><rect x="820" y="200" width="140" height="56"/></clipPath><clipPath id="cF"><rect x="960" y="200" width="200" height="56"/><rect x="1000" y="153" width="160" height="47"/></clipPath><clipPath id="cG"><rect x="700" y="256" width="200" height="84"/></clipPath><clipPath id="cH"><rect x="900" y="256" width="200" height="84"/></clipPath><clipPath id="cI"><rect x="700" y="340" width="200" height="103"/></clipPath><clipPath id="cJ"><rect x="900" y="340" width="160" height="103"/></clipPath><clipPath id="cK"><rect x="1060" y="340" width="144" height="55"/></clipPath><clipPath id="cL"><rect x="1060" y="395" width="144" height="48"/><rect x="1004" y="443" width="200" height="50"/></clipPath><radialGradient id="hg3"><stop offset="0" stop-color="#e8daec" stop-opacity="1"/><stop offset="0.3" stop-color="#e8daec" stop-opacity="0.85"/><stop offset="0.65" stop-color="#e8daec" stop-opacity="0.4"/><stop offset="1" stop-color="#e8daec" stop-opacity="0"/></radialGradient><radialGradient id="hg4"><stop offset="0" stop-color="#dec9e3" stop-opacity="1"/><stop offset="0.3" stop-color="#dec9e3" stop-opacity="0.85"/><stop offset="0.65" stop-color="#dec9e3" stop-opacity="0.4"/><stop offset="1" stop-color="#dec9e3" stop-opacity="0"/></radialGradient><radialGradient id="hg5"><stop offset="0" stop-color="#d0b1d7" stop-opacity="1"/><stop offset="0.3" stop-color="#d0b1d7" stop-opacity="0.85"/><stop offset="0.65" stop-color="#d0b1d7" stop-opacity="0.4"/><stop offset="1" stop-color="#d0b1d7" stop-opacity="0"/></radialGradient><radialGradient id="hg6"><stop offset="0" stop-color="#c49dcc" stop-opacity="1"/><stop offset="0.3" stop-color="#c49dcc" stop-opacity="0.85"/><stop offset="0.65" stop-color="#c49dcc" stop-opacity="0.4"/><stop offset="1" stop-color="#c49dcc" stop-opacity="0"/></radialGradient><radialGradient id="hg7"><stop offset="0" stop-color="#b47dbe" stop-opacity="1"/><stop offset="0.3" stop-color="#b47dbe" stop-opacity="0.85"/><stop offset="0.65" stop-color="#b47dbe" stop-opacity="0.4"/><stop offset="1" stop-color="#b47dbe" stop-opacity="0"/></radialGradient><radialGradient id="hg8"><stop offset="0" stop-color="#9f5cad" stop-opacity="1"/><stop offset="0.3" stop-color="#9f5cad" stop-opacity="0.85"/><stop offset="0.65" stop-color="#9f5cad" stop-opacity="0.4"/><stop offset="1" stop-color="#9f5cad" stop-opacity="0"/></radialGradient><radialGradient id="hg9"><stop offset="0" stop-color="#8a3e99" stop-opacity="1"/><stop offset="0.3" stop-color="#8a3e99" stop-opacity="0.85"/><stop offset="0.65" stop-color="#8a3e99" stop-opacity="0.4"/><stop offset="1" stop-color="#8a3e99" stop-opacity="0"/></radialGradient></defs>
<g clip-path="url(#clipR)"><g filter="url(#soft2)">
<g clip-path="url(#cA)"><g transform="translate(620 50) scale(0.16611)">
<path d="M430 470L548 470L548 545L510 545L480 530L430 530Z" fill="#f6f1f8" stroke="#f6f1f8" stroke-width="1.806"/>
<path d="M440 475L475 472L470 495L445 510Z" fill="#efe6f2" stroke="#efe6f2" stroke-width="1.806"/>
<path d="M975 305L990 305L995 345L985 345Z" fill="#f6f1f8" stroke="#f6f1f8" stroke-width="1.806"/>
<path d="M820 415L855 415L852 440L825 435Z" fill="#f6f1f8" stroke="#f6f1f8" stroke-width="1.806"/>
<path d="M926 480L1000 495L1015 488L1040 512L1100 530L1140 540L1140 585L926 585Z" fill="#f6f1f8" stroke="#f6f1f8" stroke-width="1.806"/>
<path d="M926 388L1100 386L1100 530L1040 512L1015 488L1000 495L926 480Z" fill="#e8daec" stroke="#e8daec" stroke-width="1.806"/>
<path d="M1150 600L1170 600L1170 620L1150 620Z" fill="#f6f1f8" stroke="#f6f1f8" stroke-width="1.806"/>
</g></g>
<g clip-path="url(#cB)"><g transform="translate(820 50) scale(0.16611)">
<path d="M125 295L200 290L200 235L260 230L265 290L420 300L470 320L475 250L520 250L522 395L570 400L575 470L600 480L610 540L670 545L675 400L760 400L900 620L120 620L120 580L75 580L75 540L125 540Z" fill="#f6f1f8" stroke="#f6f1f8" stroke-width="1.806"/>
<path d="M445 500L510 495L520 480L540 490L575 470L600 480L610 540L700 545L705 570L760 560L770 620L195 620L195 590L420 588L425 560L445 555Z" fill="#e8daec" stroke="#e8daec" stroke-width="1.806"/>
<path d="M235 250L248 250L248 265L235 265Z" fill="#efe6f2" stroke="#efe6f2" stroke-width="1.806"/>
</g></g>
<g clip-path="url(#cC)"><g transform="translate(800 110) scale(0.16611)">
<path d="M0 0L1204 0L1204 620L0 620Z" fill="#f6f1f8" stroke="#f6f1f8" stroke-width="1.806"/>
<path d="M20 30L245 0L245 180L195 180L200 220L240 240L235 280L60 280L55 180L20 170Z" fill="#ffffff" stroke="#ffffff" stroke-width="1.806"/>
<path d="M640 0L850 0L870 40L795 40L790 150L730 180L720 100L690 130L690 40L640 40Z" fill="#ffffff" stroke="#ffffff" stroke-width="1.806"/>
<path d="M315 230L545 230L545 200L570 195L570 140L650 120L700 100L720 100L730 185L830 190L860 200L890 210L900 260L950 280L980 260L1000 290L1204 400L1204 620L0 620L0 350L60 240L160 280L230 280L235 330L310 335Z" fill="#efe6f2" stroke="#efe6f2" stroke-width="1.806"/>
<path d="M230 330L310 245L310 330L270 350Z" fill="#ffffff" stroke="#ffffff" stroke-width="1.806"/>
<path d="M310 340L370 320L430 300L490 280L490 430L420 430L300 385Z" fill="#f6f1f8" stroke="#f6f1f8" stroke-width="1.806"/>
<path d="M570 140L650 120L700 100L720 100L730 185L750 190L830 190L850 200L890 210L900 260L880 290L940 380L900 400L870 390L780 390L780 440L690 445L620 400L575 375L570 300L600 260L610 200L570 195Z" fill="#e8daec" stroke="#e8daec" stroke-width="1.806"/>
<path d="M750 340L800 310L860 285L870 390L780 390L750 380Z" fill="#d0b1d7" stroke="#d0b1d7" stroke-width="1.806"/>
<path d="M635 335L670 315L750 318L750 380L780 390L780 430L690 445L660 430L625 410L625 380L650 375Z" fill="#c49dcc" stroke="#c49dcc" stroke-width="1.806"/>
<path d="M0 400L30 400L60 380L95 345L130 390L170 410L210 440L230 450L215 490L200 520L170 560L160 620L0 620Z" fill="#dec9e3" stroke="#dec9e3" stroke-width="1.806"/>
<path d="M20 560L60 520L100 470L130 440L200 470L215 490L200 520L170 560L155 600L30 600Z" fill="#d0b1d7" stroke="#d0b1d7" stroke-width="1.806"/>
<path d="M285 390L430 430L415 470L370 480L340 520L300 530L275 490Z" fill="#dec9e3" stroke="#dec9e3" stroke-width="1.806"/>
<path d="M280 455L370 460L345 515L295 525L275 490Z" fill="#d0b1d7" stroke="#d0b1d7" stroke-width="1.806"/>
<ellipse cx="318" cy="482" rx="22" ry="22" fill="url(#hg7)" fill-opacity="1"/>
<path d="M390 500L480 480L510 490L520 550L480 600L400 600L375 570Z" fill="#e8daec" stroke="#e8daec" stroke-width="1.806"/>
<path d="M750 440L980 420L985 490L750 490Z" fill="#e8daec" stroke="#e8daec" stroke-width="1.806"/>
<path d="M955 490L1010 480L1060 560L1080 620L960 620Z" fill="#e8daec" stroke="#e8daec" stroke-width="1.806"/>
<path d="M580 460L650 450L660 560L570 560Z" fill="#f6f1f8" stroke="#f6f1f8" stroke-width="1.806"/>
<path d="M790 490L950 490L950 600L790 600Z" fill="#f6f1f8" stroke="#f6f1f8" stroke-width="1.806"/>
</g></g>
<g clip-path="url(#cD)"><g transform="translate(620 153) scale(0.16611)">
<path d="M330 0L550 10L550 55L720 60L720 95L750 100L765 150L770 270L770 560L550 560L548 230Z" fill="#f6f1f8" stroke="#f6f1f8" stroke-width="1.806"/>
<path d="M550 555L1204 555L1204 620L550 620Z" fill="#f6f1f8" stroke="#f6f1f8" stroke-width="1.806"/>
<path d="M840 230L930 180L930 70L1020 65L1030 100L1050 150L1204 80L1204 555L860 555L860 430L880 365L815 360L810 270Z" fill="#f6f1f8" stroke="#f6f1f8" stroke-width="1.806"/>
<path d="M520 15L550 12L552 60L600 60L605 100L720 100L750 105L755 150L720 180L650 200L640 140L520 140L515 80Z" fill="#efe6f2" stroke="#efe6f2" stroke-width="1.806"/>
<path d="M560 400L770 400L765 555L620 550L560 545Z" fill="#efe6f2" stroke="#efe6f2" stroke-width="1.806"/>
<path d="M638 450L690 450L690 500L638 500Z" fill="#f6f1f8" stroke="#f6f1f8" stroke-width="1.806"/>
<path d="M960 180L1045 180L1045 340L960 340L940 300Z" fill="#efe6f2" stroke="#efe6f2" stroke-width="1.806"/>
<path d="M940 570L1204 560L1204 620L940 620Z" fill="#efe6f2" stroke="#efe6f2" stroke-width="1.806"/>
<path d="M1045 420L1100 420L1100 520L1045 520Z" fill="#efe6f2" stroke="#efe6f2" stroke-width="1.806"/>
<path d="M1045 150L1080 180L1110 165L1130 130L1170 110L1185 85L1204 100L1204 345L1045 340Z" fill="#dec9e3" stroke="#dec9e3" stroke-width="1.806"/>
<path d="M1100 290L1150 250L1204 200L1204 345L1105 340Z" fill="#d0b1d7" stroke="#d0b1d7" stroke-width="1.806"/>
<path d="M650 200L760 260L770 300L700 290L650 280L640 230Z" fill="#e8daec" stroke="#e8daec" stroke-width="1.806"/>
<path d="M490 175L515 140L630 140L650 190L700 240L765 290L768 400L600 400L590 360L550 320L550 230L500 215Z" fill="#dec9e3" stroke="#dec9e3" stroke-width="1.806"/>
<path d="M550 200L640 200L680 280L700 400L600 400L590 360L550 320Z" fill="#d0b1d7" stroke="#d0b1d7" stroke-width="1.806"/>
<ellipse cx="583" cy="178" rx="100" ry="62" fill="url(#hg6)" fill-opacity="1"/>
<ellipse cx="578" cy="182" rx="70" ry="42" fill="url(#hg7)" fill-opacity="1"/>
<ellipse cx="689" cy="335" rx="105" ry="80" fill="url(#hg6)" fill-opacity="1"/>
<ellipse cx="685" cy="342" rx="75" ry="55" fill="url(#hg7)" fill-opacity="1"/>
<ellipse cx="562" cy="270" rx="35" ry="60" fill="url(#hg7)" fill-opacity="1"/>
<path d="M1150 465L1175 470L1180 495L1155 500Z" fill="#ffffff" stroke="#ffffff" stroke-width="1.806"/>
</g></g>
<g clip-path="url(#cE)"><g transform="translate(820 153) scale(0.16611)">
<path d="M0 0L1204 0L1204 620L0 620Z" fill="#f6f1f8" stroke="#f6f1f8" stroke-width="1.806"/>
<path d="M0 0L120 0L120 80L190 85L190 0L850 0L880 60L960 180L960 380L820 380L830 330L560 330L560 400L580 420L550 500L490 560L500 620L0 620Z" fill="#efe6f2" stroke="#efe6f2" stroke-width="1.806"/>
<path d="M0 100L80 140L120 190L100 260L60 300L40 340L0 350Z" fill="#dec9e3" stroke="#dec9e3" stroke-width="1.806"/>
<path d="M0 180L60 190L90 250L50 290L0 280Z" fill="#d0b1d7" stroke="#d0b1d7" stroke-width="1.806"/>
<path d="M35 330L100 260L120 190L170 180L180 270L150 330L100 420L100 480L35 480Z" fill="#e8daec" stroke="#e8daec" stroke-width="1.806"/>
<path d="M260 290L300 240L355 225L400 250L395 300L370 340L330 360L270 330Z" fill="#e8daec" stroke="#e8daec" stroke-width="1.806"/>
<ellipse cx="346" cy="340" rx="45" ry="38" fill="url(#hg6)" fill-opacity="1"/>
<ellipse cx="347" cy="339" rx="18" ry="16" fill="url(#hg8)" fill-opacity="1"/>
<path d="M840 230L900 240L940 300L945 370L900 380L870 330L840 300Z" fill="#e8daec" stroke="#e8daec" stroke-width="1.806"/>
<path d="M330 420L380 390L440 400L470 350L540 370L580 410L550 470L560 500L490 560L450 540L380 530L340 480Z" fill="#e8daec" stroke="#e8daec" stroke-width="1.806"/>
<path d="M370 530L400 510L450 540L460 580L430 600L380 580Z" fill="#dec9e3" stroke="#dec9e3" stroke-width="1.806"/>
<ellipse cx="412" cy="556" rx="50" ry="48" fill="url(#hg6)" fill-opacity="1"/>
<path d="M170 570L250 540L330 560L370 600L370 620L170 620Z" fill="#e8daec" stroke="#e8daec" stroke-width="1.806"/>
<path d="M490 310L560 320L570 350L520 360L490 340Z" fill="#e8daec" stroke="#e8daec" stroke-width="1.806"/>
<path d="M543 293L557 293L557 307L543 307Z" fill="#ffffff" stroke="#ffffff" stroke-width="1.806"/>
<path d="M712 310L728 310L728 332L712 332Z" fill="#ffffff" stroke="#ffffff" stroke-width="1.806"/>
</g></g>
<g clip-path="url(#cF)"><g transform="translate(970 205) scale(0.08389)">
<path d="M-200 -700L1400 -700L1400 700L-200 700Z" fill="#f6f1f8" stroke="#f6f1f8" stroke-width="3.576"/>
<path d="M-120 -620L600 -620L600 -200L360 85L320 75L265 95L260 120L120 125L120 330L-120 330Z" fill="#efe6f2" stroke="#efe6f2" stroke-width="3.576"/>
<path d="M-120 -250L60 -230L150 -50L150 125L-120 125Z" fill="#e8daec" stroke="#e8daec" stroke-width="3.576"/>
<path d="M0 0L120 30L120 125L0 140Z" fill="#e8daec" stroke="#e8daec" stroke-width="3.576"/>
<path d="M120 125L260 120L265 95L320 75L360 85L400 120L440 140L480 135L520 100L545 55L560 30L600 35L680 70L740 85L800 120L860 170L850 185L810 190L760 170L720 130L690 120L670 150L650 185L600 200L570 230L545 260L520 290L500 340L440 350L390 350L350 385L320 410L290 450L220 490L160 515L120 500Z" fill="#b47dbe" stroke="#b47dbe" stroke-width="3.576"/>
<path d="M550 260L600 200L650 185L690 120L720 130L760 170L810 190L850 185L830 230L790 280L770 320L740 300L700 280L650 290L600 270Z" fill="#e8daec" stroke="#e8daec" stroke-width="3.576"/>
<path d="M320 410L390 350L500 340L520 290L550 260L600 270L650 290L700 280L770 320L800 360L810 420L780 470L740 520L710 620L370 620L360 560L320 540Z" fill="#d0b1d7" stroke="#d0b1d7" stroke-width="3.576"/>
<path d="M320 410L390 380L450 400L500 450L480 520L420 540L360 560L320 540Z" fill="#e8daec" stroke="#e8daec" stroke-width="3.576"/>
<ellipse cx="650" cy="465" rx="130" ry="120" fill="url(#hg7)" fill-opacity="1"/>
<ellipse cx="652" cy="458" rx="45" ry="45" fill="url(#hg9)" fill-opacity="1"/>
<ellipse cx="742" cy="436" rx="25" ry="22" fill="url(#hg8)" fill-opacity="0.9"/>
</g></g>
<g clip-path="url(#cG)"><g transform="translate(700 250) scale(0.16611)">
<path d="M0 0L1204 0L1204 620L0 620Z" fill="#f6f1f8" stroke="#f6f1f8" stroke-width="1.806"/>
<path d="M305 350L445 355L460 340L555 335L555 255L750 258L750 345L700 348L700 400L500 390L505 530L305 530Z" fill="#ffffff" stroke="#ffffff" stroke-width="1.806"/>
<path d="M70 490L305 490L305 620L70 620Z" fill="#ffffff" stroke="#ffffff" stroke-width="1.806"/>
<path d="M460 0L745 0L745 140L700 150L600 160L560 170L510 130L510 60L455 55Z" fill="#efe6f2" stroke="#efe6f2" stroke-width="1.806"/>
<path d="M745 0L1204 0L1204 620L845 620L845 350L800 350L750 258Z" fill="#efe6f2" stroke="#efe6f2" stroke-width="1.806"/>
<path d="M750 140L800 130L850 150L900 130L960 150L1000 200L1040 210L1040 350L800 350L820 300L790 250L750 230Z" fill="#e8daec" stroke="#e8daec" stroke-width="1.806"/>
<path d="M750 0L940 0L940 40L960 130L900 130L850 110L750 130Z" fill="#f6f1f8" stroke="#f6f1f8" stroke-width="1.806"/>
<path d="M1100 0L1170 30L1160 80L1120 100L1100 60Z" fill="#e8daec" stroke="#e8daec" stroke-width="1.806"/>
<path d="M1145 190L1204 190L1204 280L1145 280Z" fill="#e8daec" stroke="#e8daec" stroke-width="1.806"/>
<path d="M1100 350L1204 330L1204 480L1130 500L1100 450Z" fill="#e8daec" stroke="#e8daec" stroke-width="1.806"/>
<path d="M910 0L1100 0L1040 45L950 40Z" fill="#e8daec" stroke="#e8daec" stroke-width="1.806"/>
<path d="M305 530L505 535L505 620L305 620Z" fill="#e8daec" stroke="#e8daec" stroke-width="1.806"/>
<path d="M500 390L700 400L700 348L845 350L845 620L505 620Z" fill="#e8daec" stroke="#e8daec" stroke-width="1.806"/>
<path d="M585 450L640 455L645 520L700 530L700 580L560 560L540 500Z" fill="#dec9e3" stroke="#dec9e3" stroke-width="1.806"/>
<path d="M555 480L580 478L610 505L640 520L650 548L600 545L560 530Z" fill="#b47dbe" stroke="#b47dbe" stroke-width="1.806"/>
<path d="M845 350L950 352L975 400L960 440L995 465L960 500L1000 560L1040 580L1040 590L850 580Z" fill="#d0b1d7" stroke="#d0b1d7" stroke-width="1.806"/>
<path d="M895 430L960 440L995 465L960 500L940 520L900 510L890 470Z" fill="#c49dcc" stroke="#c49dcc" stroke-width="1.806"/>
<path d="M950 350L1040 350L1040 470L1060 500L1040 590L1000 560L960 500L995 465L960 440L975 400Z" fill="#dec9e3" stroke="#dec9e3" stroke-width="1.806"/>
<path d="M1040 470L1110 500L1115 585L1040 590Z" fill="#e8daec" stroke="#e8daec" stroke-width="1.806"/>
<path d="M920 585L1000 585L1000 620L920 620Z" fill="#f6f1f8" stroke="#f6f1f8" stroke-width="1.806"/>
<path d="M440 205L465 205L465 228L440 228Z" fill="#e8daec" stroke="#e8daec" stroke-width="1.806"/>
</g></g>
<g clip-path="url(#cH)"><g transform="translate(900 250) scale(0.16611)">
<path d="M0 0L1204 0L1204 620L0 620Z" fill="#efe6f2" stroke="#efe6f2" stroke-width="1.806"/>
<path d="M720 350L760 280L800 250L930 320L930 370L900 400L860 470L820 480L760 400Z" fill="#ffffff" stroke="#ffffff" stroke-width="1.806"/>
<path d="M0 515L130 515L130 620L0 620Z" fill="#ffffff" stroke="#ffffff" stroke-width="1.806"/>
<path d="M670 500L845 495L845 620L670 620Z" fill="#f6f1f8" stroke="#f6f1f8" stroke-width="1.806"/>
<path d="M330 530L560 520L560 620L330 620Z" fill="#f6f1f8" stroke="#f6f1f8" stroke-width="1.806"/>
<path d="M300 0L550 0L550 100L470 130L440 90L380 60L340 80L300 70Z" fill="#f6f1f8" stroke="#f6f1f8" stroke-width="1.806"/>
<path d="M230 110L290 80L340 85L380 60L440 90L470 140L480 180L510 210L505 260L540 280L540 300L500 310L490 340L350 340L350 360L290 360L280 340L235 350Z" fill="#dec9e3" stroke="#dec9e3" stroke-width="1.806"/>
<path d="M235 230L310 240L320 300L350 340L290 360L235 350Z" fill="#d0b1d7" stroke="#d0b1d7" stroke-width="1.806"/>
<path d="M230 350L330 350L335 490L280 520L235 480Z" fill="#e8daec" stroke="#e8daec" stroke-width="1.806"/>
<path d="M0 270L100 270L180 280L230 300L230 450L110 450L100 400L0 400Z" fill="#e8daec" stroke="#e8daec" stroke-width="1.806"/>
<ellipse cx="120" cy="320" rx="30" ry="28" fill="url(#hg6)" fill-opacity="1"/>
<path d="M567 10L608 31L684 15L724 41L764 56L744 91L744 142L754 182L785 202L785 233L684 222L608 202L567 172Z" fill="#e8daec" stroke="#e8daec" stroke-width="1.806"/>
<path d="M583 -60L795 -60L785 15L764 56L724 41L684 15L608 31L583 10Z" fill="#d0b1d7" stroke="#d0b1d7" stroke-width="1.806"/>
<path d="M583 30L774 30L754 71L684 66L608 71L583 61Z" fill="#d6bcdc" stroke="#d6bcdc" stroke-width="1.806"/>
<ellipse cx="750" cy="-41" rx="80" ry="115" fill="url(#hg7)" fill-opacity="1"/>
<path d="M540 250L720 260L700 300L560 300Z" fill="#f6f1f8" stroke="#f6f1f8" stroke-width="1.806"/>
<path d="M845 480L900 400L930 370L1000 380L1130 470L1160 620L845 620Z" fill="#e8daec" stroke="#e8daec" stroke-width="1.806"/>
<path d="M975 520L1120 520L1160 620L975 620Z" fill="#d0b1d7" stroke="#d0b1d7" stroke-width="1.806"/>
<path d="M40 170L60 170L60 200L40 200Z" fill="#ffffff" stroke="#ffffff" stroke-width="1.806"/>
</g></g>
<g clip-path="url(#cI)"><g transform="translate(700 340) scale(0.16611)">
<path d="M300 0L1204 0L1204 420L885 420L885 600L520 600L520 350L300 350Z" fill="#dec9e3" stroke="#dec9e3" stroke-width="1.806"/>
<path d="M70 320L230 320L240 290L310 290L310 350L305 450L70 450Z" fill="#f6f1f8" stroke="#f6f1f8" stroke-width="1.806"/>
<path d="M70 450L305 450L310 350L510 355L510 410L525 420L520 590L70 590Z" fill="#efe6f2" stroke="#efe6f2" stroke-width="1.806"/>
<path d="M430 420L520 400L520 590L350 590L420 540Z" fill="#f6f1f8" stroke="#f6f1f8" stroke-width="1.806"/>
<path d="M300 0L505 0L505 70L510 150L310 150L300 150Z" fill="#e8daec" stroke="#e8daec" stroke-width="1.806"/>
<path d="M315 150L510 150L510 260L510 355L310 350Z" fill="#dec9e3" stroke="#dec9e3" stroke-width="1.806"/>
<path d="M370 220L440 215L470 250L480 300L400 310L370 270Z" fill="#d0b1d7" stroke="#d0b1d7" stroke-width="1.806"/>
<path d="M505 75L750 75L750 260L510 260Z" fill="#efe6f2" stroke="#efe6f2" stroke-width="1.806"/>
<path d="M510 180L550 180L550 255L510 255Z" fill="#ffffff" stroke="#ffffff" stroke-width="1.806"/>
<path d="M505 75L555 75L555 110L505 110Z" fill="#f6f1f8" stroke="#f6f1f8" stroke-width="1.806"/>
<path d="M650 80L745 80L745 110L700 115L650 105Z" fill="#f6f1f8" stroke="#f6f1f8" stroke-width="1.806"/>
<path d="M595 160L700 160L705 250L600 250Z" fill="#dec9e3" stroke="#dec9e3" stroke-width="1.806"/>
<ellipse cx="652" cy="205" rx="55" ry="50" fill="url(#hg7)" fill-opacity="1"/>
<ellipse cx="655" cy="204" rx="22" ry="22" fill="url(#hg9)" fill-opacity="1"/>
<path d="M505 0L920 0L920 100L850 130L850 270L820 270L750 260L750 75L505 75Z" fill="#dec9e3" stroke="#dec9e3" stroke-width="1.806"/>
<path d="M850 130L920 100L1045 50L1050 200L1020 260L920 250L850 270Z" fill="#d0b1d7" stroke="#d0b1d7" stroke-width="1.806"/>
<path d="M890 0L1045 0L1050 45L900 40Z" fill="#d0b1d7" stroke="#d0b1d7" stroke-width="1.806"/>
<path d="M920 45L1000 45L1000 90L960 120L920 110Z" fill="#efe6f2" stroke="#efe6f2" stroke-width="1.806"/>
<path d="M510 260L820 265L820 420L885 420L885 600L520 600L525 420L510 410Z" fill="#d0b1d7" stroke="#d0b1d7" stroke-width="1.806"/>
<path d="M525 420L885 420L885 600L520 600Z" fill="#c49dcc" stroke="#c49dcc" stroke-width="1.806"/>
<path d="M560 265L720 265L730 300L650 325L570 300Z" fill="#c49dcc" stroke="#c49dcc" stroke-width="1.806"/>
<path d="M590 500L640 450L700 455L760 500L810 560L810 600L560 600Z" fill="#bc8dc6" stroke="#bc8dc6" stroke-width="1.806"/>
<ellipse cx="700" cy="560" rx="110" ry="100" fill="url(#hg7)" fill-opacity="0.9"/>
<path d="M820 275L1204 280L1204 420L885 420L820 420Z" fill="#dec9e3" stroke="#dec9e3" stroke-width="1.806"/>
<path d="M820 280L890 290L900 340L940 400L820 420Z" fill="#efe6f2" stroke="#efe6f2" stroke-width="1.806"/>
<path d="M1045 50L1204 50L1204 280L1030 275L1020 260L1050 200Z" fill="#f6f1f8" stroke="#f6f1f8" stroke-width="1.806"/>
<path d="M1045 50L1204 50L1204 140L1080 150Z" fill="#ffffff" stroke="#ffffff" stroke-width="1.806"/>
<path d="M970 420L1204 420L1204 590L1050 590L1040 520L1000 470Z" fill="#efe6f2" stroke="#efe6f2" stroke-width="1.806"/>
</g></g>
<g clip-path="url(#cJ)"><g transform="translate(900 340) scale(0.16611)">
<path d="M130 0L560 0L560 30L520 60L440 80L390 60L380 80L180 80L130 80Z" fill="#f6f1f8" stroke="#f6f1f8" stroke-width="1.806"/>
<path d="M210 0L370 0L375 80L210 80Z" fill="#efe6f2" stroke="#efe6f2" stroke-width="1.806"/>
<path d="M180 80L385 80L400 160L430 210L455 240L455 260L370 265L365 380L180 375Z" fill="#e8daec" stroke="#e8daec" stroke-width="1.806"/>
<path d="M0 180L40 150L100 140L120 90L180 85L180 285L0 285Z" fill="#efe6f2" stroke="#efe6f2" stroke-width="1.806"/>
<path d="M0 285L175 288L170 390L120 380L60 370L0 380Z" fill="#d0b1d7" stroke="#d0b1d7" stroke-width="1.806"/>
<path d="M0 365L170 375L165 590L0 590Z" fill="#e8daec" stroke="#e8daec" stroke-width="1.806"/>
<path d="M40 460L110 460L110 520L40 520Z" fill="#efe6f2" stroke="#efe6f2" stroke-width="1.806"/>
<path d="M170 380L365 380L370 410L410 415L410 590L170 590Z" fill="#f6f1f8" stroke="#f6f1f8" stroke-width="1.806"/>
<path d="M370 265L455 260L470 320L500 370L490 410L370 410Z" fill="#f6f1f8" stroke="#f6f1f8" stroke-width="1.806"/>
<path d="M410 415L630 420L635 500L655 590L410 590Z" fill="#e8daec" stroke="#e8daec" stroke-width="1.806"/>
<path d="M320 500L350 490L400 520L410 590L330 590Z" fill="#ffffff" stroke="#ffffff" stroke-width="1.806"/>
<path d="M570 0L660 0L660 150L630 160L620 250L580 250L570 150Z" fill="#f6f1f8" stroke="#f6f1f8" stroke-width="1.806"/>
<path d="M690 100L840 80L840 140L690 130Z" fill="#f6f1f8" stroke="#f6f1f8" stroke-width="1.806"/>
<path d="M845 0L970 0L970 240L1000 250L1050 400L1100 440L1050 450L1040 520L850 520L850 450L800 380L870 350L870 290L815 260L820 140L845 130Z" fill="#efe6f2" stroke="#efe6f2" stroke-width="1.806"/>
<path d="M970 0L1120 0L1165 70L1150 120L1125 150L1160 200L1204 290L1204 400L1150 400L1100 440L1050 400L1010 250L970 240Z" fill="#dec9e3" stroke="#dec9e3" stroke-width="1.806"/>
</g></g>
<g clip-path="url(#cK)"><g transform="translate(1004 300) scale(0.16611)">
<path d="M0 0L1204 0L1204 620L0 620Z" fill="#efe6f2" stroke="#efe6f2" stroke-width="1.806"/>
<path d="M345 218L470 218L500 240L540 330L500 390L530 450L560 520L600 560L560 620L420 620L380 500L345 480Z" fill="#dec9e3" stroke="#dec9e3" stroke-width="1.806"/>
<path d="M400 300L470 260L500 390L460 380L430 350Z" fill="#d0b1d7" stroke="#d0b1d7" stroke-width="1.806"/>
<path d="M480 300L520 300L520 350L480 350Z" fill="#e8daec" stroke="#e8daec" stroke-width="1.806"/>
</g></g>
<g clip-path="url(#cL)"><g transform="translate(1004 390) scale(0.16611)">
<path d="M180 40L250 0L570 0L640 100L600 200L540 180L500 140L420 150L415 220L220 220L210 150L175 80Z" fill="#f6f1f8" stroke="#f6f1f8" stroke-width="1.806"/>
<path d="M240 0L400 0L420 60L500 100L500 140L420 150L380 150L370 60L240 50Z" fill="#efe6f2" stroke="#efe6f2" stroke-width="1.806"/>
<path d="M400 0L570 0L600 60L610 100L560 110L500 100L430 80L410 40Z" fill="#dec9e3" stroke="#dec9e3" stroke-width="1.806"/>
<ellipse cx="462" cy="75" rx="45" ry="40" fill="url(#hg6)" fill-opacity="1"/>
<path d="M528 48L542 48L542 62L528 62Z" fill="#ffffff" stroke="#ffffff" stroke-width="1.806"/>
<path d="M360 350L410 335L470 350L480 385L455 410L415 440L425 455L350 460L350 400Z" fill="#f6f1f8" stroke="#f6f1f8" stroke-width="1.806"/>
<ellipse cx="385" cy="443" rx="12" ry="10" fill="url(#hg6)" fill-opacity="1"/>
<path d="M300 445L350 445L350 500L300 500Z" fill="#f6f1f8" stroke="#f6f1f8" stroke-width="1.806"/>
<path d="M160 490L250 440L270 550L200 575L130 575Z" fill="#f6f1f8" stroke="#f6f1f8" stroke-width="1.806"/>
</g></g>
</g></g>
</g>
<g fill="none" stroke="#141414" stroke-width="1.7" stroke-linejoin="round" stroke-linecap="round" filter="url(#lineblur)"><use href="#mo"/><path d="M82.58 59.74C82.93 59.81 84.15 60.37 84.68 60.16C85.21 59.95 85.70 59.05 85.77 58.49C85.84 57.93 85.46 57.19 85.10 56.81C84.74 56.43 84.04 56.15 83.59 56.22C83.14 56.29 82.66 56.81 82.42 57.23C82.18 57.65 82.13 58.32 82.16 58.74C82.19 59.16 82.51 59.57 82.58 59.74C82.65 59.91 82.23 59.67 82.58 59.74Z"/><path d="M440.62 202.55C440.76 203.39 440.97 206.18 441.46 207.58C441.95 208.98 442.65 210.03 443.56 210.94C444.47 211.85 445.93 212.69 446.91 213.04C447.89 213.39 448.45 213.46 449.43 213.04C450.41 212.62 451.95 211.43 452.79 210.52C453.63 209.61 453.97 208.56 454.46 207.58C454.95 206.60 455.16 205.24 455.72 204.65C456.28 204.06 456.77 203.99 457.82 204.06C458.87 204.13 460.61 204.48 462.01 205.07C463.41 205.66 464.95 207.05 466.21 207.58C467.47 208.11 468.44 207.91 469.56 208.26C470.68 208.61 471.66 208.95 472.92 209.68C474.18 210.41 475.71 211.64 477.11 212.62C478.51 213.60 480.54 214.71 481.31 215.55C482.08 216.39 481.87 216.88 481.73 217.65C481.59 218.42 481.24 219.19 480.47 220.17C479.70 221.15 478.09 222.47 477.11 223.52C476.13 224.57 474.88 225.48 474.60 226.46C474.32 227.44 475.02 228.35 475.44 229.40C475.86 230.45 476.90 231.49 477.11 232.75C477.32 234.01 477.11 235.69 476.69 236.95C476.27 238.21 475.24 239.51 474.60 240.30C473.96 241.09 473.42 240.96 472.85 241.68C472.28 242.40 471.66 243.49 471.17 244.61C470.68 245.73 470.27 247.06 469.92 248.39C469.57 249.72 469.43 251.46 469.08 252.58C468.73 253.70 468.38 254.40 467.82 255.10C467.26 255.80 466.35 256.08 465.72 256.78C465.09 257.48 464.32 258.88 464.04 259.30" stroke-width="2.4"/></g>
<g filter="url(#lineblur2)"><g transform="translate(545.55 2.15) scale(1.0320 1.0066)" fill="none" stroke="#0a0a0a" stroke-width="1.75" stroke-linejoin="round" stroke-linecap="round"><use href="#mo"/><path d="M82.58 59.74C82.93 59.81 84.15 60.37 84.68 60.16C85.21 59.95 85.70 59.05 85.77 58.49C85.84 57.93 85.46 57.19 85.10 56.81C84.74 56.43 84.04 56.15 83.59 56.22C83.14 56.29 82.66 56.81 82.42 57.23C82.18 57.65 82.13 58.32 82.16 58.74C82.19 59.16 82.51 59.57 82.58 59.74C82.65 59.91 82.23 59.67 82.58 59.74Z"/><path d="M440.62 202.55C440.76 203.39 440.97 206.18 441.46 207.58C441.95 208.98 442.65 210.03 443.56 210.94C444.47 211.85 445.93 212.69 446.91 213.04C447.89 213.39 448.45 213.46 449.43 213.04C450.41 212.62 451.95 211.43 452.79 210.52C453.63 209.61 453.97 208.56 454.46 207.58C454.95 206.60 455.16 205.24 455.72 204.65C456.28 204.06 456.77 203.99 457.82 204.06C458.87 204.13 460.61 204.48 462.01 205.07C463.41 205.66 464.95 207.05 466.21 207.58C467.47 208.11 468.44 207.91 469.56 208.26C470.68 208.61 471.66 208.95 472.92 209.68C474.18 210.41 475.71 211.64 477.11 212.62C478.51 213.60 480.54 214.71 481.31 215.55C482.08 216.39 481.87 216.88 481.73 217.65C481.59 218.42 481.24 219.19 480.47 220.17C479.70 221.15 478.09 222.47 477.11 223.52C476.13 224.57 474.88 225.48 474.60 226.46C474.32 227.44 475.02 228.35 475.44 229.40C475.86 230.45 476.90 231.49 477.11 232.75C477.32 234.01 477.11 235.69 476.69 236.95C476.27 238.21 475.24 239.51 474.60 240.30C473.96 241.09 473.42 240.96 472.85 241.68C472.28 242.40 471.66 243.49 471.17 244.61C470.68 245.73 470.27 247.06 469.92 248.39C469.57 249.72 469.43 251.46 469.08 252.58C468.73 253.70 468.38 254.40 467.82 255.10C467.26 255.80 466.35 256.08 465.72 256.78C465.09 257.48 464.32 258.88 464.04 259.30" stroke-width="2.7"/></g></g>
</svg>
<div class="cap" id="cap1">Missouri heatmap, <span style="margin-left:-1px;letter-spacing:-0.22px">July 5</span></div>
<div class="cap" id="cap2">Missouri heatmap, August 9</div>
</body>
</html>
